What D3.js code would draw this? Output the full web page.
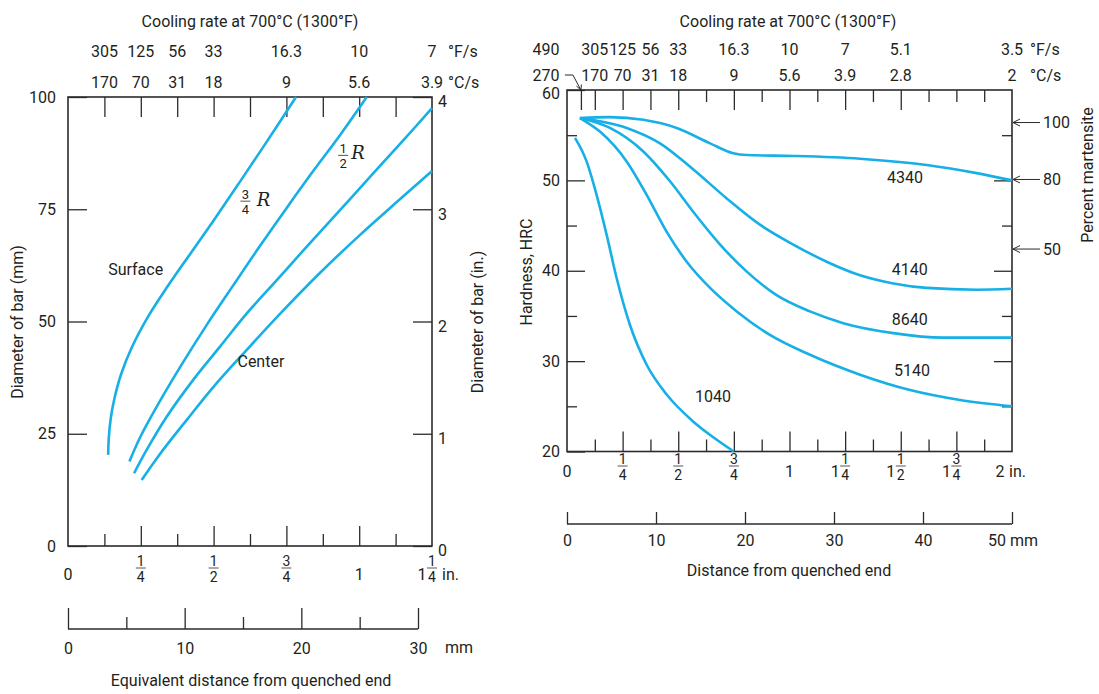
<!DOCTYPE html>
<html>
<head>
<meta charset="utf-8">
<script src="https://cdn.jsdelivr.net/npm/d3@7"></script>
<style>
  body { margin: 0; background: #fff; }
  svg text { font-family: Roboto, "Liberation Sans", sans-serif; fill: #231f20; }
</style>
</head>
<body>
<div id="chart"></div>
<script>
// ---------------- data: left chart (equivalent Jominy distance) ----------------
const rateInchL = [1/8, 1/4, 3/8, 1/2, 3/4, 1, 1.25];
const rateFL = ["305", "125", "56", "33", "16.3", "10", "7"];
const rateCL = ["170", "70", "31", "18", "9", "5.6", "3.9"];
const diamMmTicks = [0, 25, 50, 75, 100];
const diamInTicks = [0, 1, 2, 3, 4];
const inchTicksL = [0, 0.25, 0.5, 0.75, 1, 1.25];
const inchLabelsL = [["0", ""], ["", "1/4"], ["", "1/2"], ["", "3/4"], ["1", ""], ["1", "1/4"]];
const mmTicksL = [0, 10, 20, 30];
const mmMinorL = [5, 15, 25];

// [inch, mm]
const surface = [[0.138, 20.3], [0.140, 24.0], [0.147, 28.5], [0.160, 33.0], [0.182, 38.2], [0.219, 44.2],
  [0.276, 51.2], [0.344, 58.0], [0.419, 65.0], [0.499, 72.4], [0.585, 80.6], [0.677, 89.5], [0.783, 100]];
const threeQuarterR = [[0.211, 18.8], [0.247, 24.1], [0.316, 32.3], [0.396, 41.0], [0.476, 49.2], [0.568, 58.1],
  [0.659, 66.8], [0.751, 75.3], [0.842, 83.5], [0.934, 91.5], [1.026, 100]];
const halfR = [[0.227, 16.2], [0.270, 21.4], [0.339, 28.8], [0.430, 37.0], [0.522, 44.4], [0.614, 51.8],
  [0.717, 59.2], [0.820, 66.7], [0.934, 74.8], [1.048, 83.0], [1.152, 90.4], [1.25, 97.5]];
const center = [[0.253, 14.7], [0.316, 20.5], [0.408, 28.1], [0.499, 35.4], [0.614, 43.7], [0.728, 51.7],
  [0.865, 60.8], [1.003, 69.3], [1.129, 76.6], [1.25, 83.5]];

// ---------------- data: right chart (Jominy hardness) ----------------
const rateInchR = [1/16, 1/8, 1/4, 3/8, 1/2, 3/4, 1, 1.25, 1.5, 2];
const rateFR = ["490", "305", "125", "56", "33", "16.3", "10", "7", "5.1", "3.5"];
const rateCR = ["270", "170", "70", "31", "18", "9", "5.6", "3.9", "2.8", "2"];
const hrcTicks = [20, 30, 40, 50, 60];
const hrcMinor = [25, 35, 45, 55];
const inchTicksR = [0, 0.25, 0.5, 0.75, 1, 1.25, 1.5, 1.75, 2];
const inchLabelsR = [["0", ""], ["", "1/4"], ["", "1/2"], ["", "3/4"], ["1", ""], ["1", "1/4"], ["1", "1/2"], ["1", "3/4"], ["2", ""]];
const mmTicksR = [0, 10, 20, 30, 40, 50];
const martensitePct = ["100", "80", "50"];
const martensiteHRC = [56.4, 50.1, 42.4];

// [inch, HRC]
const steel4340 = [[0.058, 56.9], [0.193, 57.0], [0.343, 56.7], [0.493, 55.8], [0.643, 54.1], [0.747, 53.0],
  [0.808, 52.8], [1.017, 52.7], [1.317, 52.4], [1.617, 51.7], [1.841, 50.8], [2.0, 50.0]];
const steel4140 = [[0.058, 56.9], [0.268, 55.8], [0.418, 54.1], [0.568, 51.2], [0.718, 48.0], [0.867, 45.1],
  [1.017, 42.9], [1.167, 41.0], [1.317, 39.5], [1.467, 38.6], [1.617, 38.1], [1.841, 37.9], [2.0, 38.0]];
const steel8640 = [[0.058, 56.9], [0.193, 55.8], [0.343, 53.2], [0.463, 49.9], [0.568, 46.5], [0.688, 42.9],
  [0.808, 39.9], [0.942, 37.3], [1.092, 35.5], [1.242, 34.2], [1.467, 33.1], [1.691, 32.6], [2.0, 32.6]];
const steel5140 = [[0.058, 56.9], [0.148, 55.4], [0.268, 52.1], [0.358, 48.4], [0.448, 44.3], [0.538, 41.0],
  [0.643, 38.1], [0.763, 35.5], [0.912, 32.9], [1.092, 30.7], [1.317, 28.5], [1.542, 26.8], [1.766, 25.7], [2.0, 25.0]];
const steel1040 = [[0.036, 54.7], [0.088, 52.1], [0.133, 48.4], [0.178, 44.0], [0.223, 39.2], [0.283, 34.0],
  [0.358, 29.6], [0.448, 26.3], [0.568, 23.3], [0.673, 21.3], [0.75, 20.0]];
const steelNames = ["4340", "4140", "8640", "5140", "1040"];
const steelLabelAt = [[1.438, 49.7], [1.46, 39.5], [1.46, 34.0], [1.47, 28.4], [0.575, 25.5]];

// ---------------- drawing ----------------
const curveBlue = "#16b0e6";
const ink = "#2b2b2b";
const svg = d3.select("#chart").append("svg")
  .attr("width", 1099)
  .attr("height", 694);

// stacked fraction like 1/4
function fraction(g, x, barY, str, size) {
  const [num, den] = str.split("/");
  g.append("text").attr("x", x).attr("y", barY - 2).attr("text-anchor", "middle")
    .style("font-size", size + "px").text(num);
  g.append("line").attr("x1", x - 5).attr("x2", x + 5).attr("y1", barY).attr("y2", barY)
    .attr("stroke", ink).attr("stroke-width", 0.8);
  g.append("text").attr("x", x).attr("y", barY + size).attr("text-anchor", "middle")
    .style("font-size", size + "px").text(den);
}

function cleanAxis(g) {
  g.select(".domain").remove();
  g.selectAll("line").attr("stroke", ink).attr("stroke-width", 1.3);
  g.selectAll("text").attr("font-family", null).style("font-size", "16px").attr("fill", "#231f20");
}

// ===== LEFT =====
const xL = d3.scaleLinear().domain([0, 1.25]).range([68, 432]);
const yL = d3.scaleLinear().domain([0, 100]).range([546, 97]);
const yLin = d3.scaleLinear().domain([0, 4]).range([546, 97]);
const xLmm = d3.scaleLinear().domain([0, 30]).range([68, 418]);
const left = svg.append("g");

// titles
left.append("text").attr("x", 250).attr("y", 27).attr("text-anchor", "middle")
  .style("font-size", "16px").text("Cooling rate at 700°C (1300°F)");
rateInchL.forEach((v, i) => {
  left.append("text").attr("x", xL(v)).attr("y", 57).attr("text-anchor", "middle").style("font-size", "16px").text(rateFL[i]);
  left.append("text").attr("x", xL(v)).attr("y", 88).attr("text-anchor", "middle").style("font-size", "16px").text(rateCL[i]);
});
left.append("text").attr("x", 448).attr("y", 57).style("font-size", "16px").text("°F/s");
left.append("text").attr("x", 448).attr("y", 88).style("font-size", "16px").text("°C/s");

// ticks
const eighthsL = d3.range(1, 10).map(k => k / 8);
left.append("g").attr("transform", "translate(0,97)")
  .call(d3.axisTop(xL).tickValues(eighthsL).tickSizeInner(-20).tickSizeOuter(0).tickFormat(""))
  .call(cleanAxis);
left.append("g").attr("transform", "translate(0,546)")
  .call(d3.axisBottom(xL).tickValues([0.25, 0.5, 0.75, 1]).tickSizeInner(-20).tickSizeOuter(0).tickFormat(""))
  .call(cleanAxis);
left.append("g").attr("transform", "translate(0,546)")
  .call(d3.axisBottom(xL).tickValues([1/8, 3/8, 5/8, 7/8, 9/8]).tickSizeInner(-12).tickSizeOuter(0).tickFormat(""))
  .call(cleanAxis);
left.append("g").attr("transform", "translate(68,0)")
  .call(d3.axisLeft(yL).tickValues(diamMmTicks).tickSizeInner(-19).tickSizeOuter(0).tickPadding(12))
  .call(cleanAxis);
left.append("g").attr("transform", "translate(432,0)")
  .call(d3.axisRight(yLin).tickValues(diamInTicks).tickSizeInner(-19).tickSizeOuter(0).tickPadding(6).tickFormat(d3.format("d")))
  .call(cleanAxis)
  .selectAll("text").attr("dy", "0.62em");

left.append("rect").attr("x", xL(0)).attr("y", yL(100)).attr("width", xL(1.25) - xL(0)).attr("height", yL(0) - yL(100))
  .attr("fill", "none").attr("stroke", ink).attr("stroke-width", 1.6);

// axis titles
left.append("text").attr("transform", "translate(23,322) rotate(-90)").attr("text-anchor", "middle")
  .style("font-size", "16px").text("Diameter of bar (mm)");
left.append("text").attr("transform", "translate(483,322) rotate(-90)").attr("text-anchor", "middle")
  .style("font-size", "16px").text("Diameter of bar (in.)");

// inch labels
inchTicksL.forEach((v, i) => {
  const [whole, frac] = inchLabelsL[i];
  const x = xL(v);
  if (frac) {
    fraction(left, x, 568, frac, 14);
    if (whole) left.append("text").attr("x", x - 10).attr("y", 580).attr("text-anchor", "middle").style("font-size", "16px").text(whole);
  } else {
    left.append("text").attr("x", x).attr("y", 580).attr("text-anchor", "middle").style("font-size", "16px").text(whole);
  }
});
left.append("text").attr("x", xL(1.25) + 10).attr("y", 580).style("font-size", "16px").text("in.");

// mm axis
const mmG = left.append("g").attr("transform", "translate(0,629)");
mmG.call(d3.axisBottom(xLmm).tickValues(mmTicksL).tickSizeInner(-21).tickSizeOuter(0).tickPadding(8).tickFormat(d3.format("d")))
  .call(cleanAxis);
mmG.append("g").call(d3.axisBottom(xLmm).tickValues(mmMinorL).tickSizeInner(-12).tickSizeOuter(0).tickFormat(""))
  .call(cleanAxis);
mmG.append("line").attr("x1", xLmm(0)).attr("x2", xLmm(30)).attr("stroke", ink).attr("stroke-width", 1.6);
mmG.selectAll("text").attr("dy", "1.05em");
left.append("text").attr("x", 445).attr("y", 653).style("font-size", "16px").text("mm");
left.append("text").attr("x", 251).attr("y", 686).attr("text-anchor", "middle")
  .style("font-size", "16px").text("Equivalent distance from quenched end");

// curves
const lineL = d3.line().x(d => xL(d[0])).y(d => yL(d[1])).curve(d3.curveCatmullRom.alpha(0.5));
[surface, threeQuarterR, halfR, center].forEach(c => {
  left.append("path").datum(c).attr("d", lineL)
    .attr("fill", "none").attr("stroke", curveBlue).attr("stroke-width", 2.6);
});
left.append("text").attr("x", xL(0.138)).attr("y", yL(60.3)).style("font-size", "16px").text("Surface");
left.append("text").attr("x", xL(0.582)).attr("y", yL(39.8)).style("font-size", "16px").text("Center");
fraction(left, xL(0.609), yL(76.8), "3/4", 13);
left.append("text").attr("x", xL(0.648)).attr("y", yL(75.8)).style("font-family", "'DejaVu Serif', serif")
  .style("font-style", "italic").style("font-size", "18px").text("R");
fraction(left, xL(0.945), yL(87.0), "1/2", 13);
left.append("text").attr("x", xL(0.973)).attr("y", yL(86.2)).style("font-family", "'DejaVu Serif', serif")
  .style("font-style", "italic").style("font-size", "18px").text("R");

// ===== RIGHT =====
const xR = d3.scaleLinear().domain([0, 2]).range([567, 1012]);
const yR = d3.scaleLinear().domain([20, 60]).range([451.5, 90]);
const xRmm = d3.scaleLinear().domain([0, 50]).range([567, 1012]);
const right = svg.append("g");

right.append("text").attr("x", 788).attr("y", 27).attr("text-anchor", "middle")
  .style("font-size", "16px").text("Cooling rate at 700°C (1300°F)");
rateInchR.forEach((v, i) => {
  const x = i === 0 ? 546 : xR(v);
  right.append("text").attr("x", x).attr("y", 55).attr("text-anchor", "middle").style("font-size", "16px").text(rateFR[i]);
  right.append("text").attr("x", x).attr("y", 81).attr("text-anchor", "middle").style("font-size", "16px").text(rateCR[i]);
});
right.append("text").attr("x", 1030).attr("y", 55).style("font-size", "16px").text("°F/s");
right.append("text").attr("x", 1030).attr("y", 81).style("font-size", "16px").text("°C/s");

// arrow from 270 label to the 1/16 in tick
const ax = xR(1/16), ay = yR(60);
right.append("path")
  .attr("d", `M${ax - 16},${ay - 15}H${ax - 8}L${ax},${ay}M${ax - 4.5},${ay - 4}L${ax},${ay}L${ax + 0.5},${ay - 5.5}`)
  .attr("fill", "none").attr("stroke", ink).attr("stroke-width", 1);

// ticks
const topLong = rateInchR.filter(v => v < 2);
const topShort = [5/8, 7/8, 9/8, 11/8, 13/8, 14/8, 15/8];
right.append("g").attr("transform", `translate(0,${yR(60)})`)
  .call(d3.axisTop(xR).tickValues(topLong).tickSizeInner(-20).tickSizeOuter(0).tickFormat(""))
  .call(cleanAxis);
right.append("g").attr("transform", `translate(0,${yR(60)})`)
  .call(d3.axisTop(xR).tickValues(topShort).tickSizeInner(-12).tickSizeOuter(0).tickFormat(""))
  .call(cleanAxis);
const eighthsR = d3.range(1, 16).map(k => k / 8);
right.append("g").attr("transform", `translate(0,${yR(20)})`)
  .call(d3.axisBottom(xR).tickValues(eighthsR.filter((v, i) => i % 2 === 1)).tickSizeInner(-20).tickSizeOuter(0).tickFormat(""))
  .call(cleanAxis);
right.append("g").attr("transform", `translate(0,${yR(20)})`)
  .call(d3.axisBottom(xR).tickValues(eighthsR.filter((v, i) => i % 2 === 0)).tickSizeInner(-12).tickSizeOuter(0).tickFormat(""))
  .call(cleanAxis);
right.append("g").attr("transform", `translate(${xR(0)},0)`)
  .call(d3.axisLeft(yR).tickValues(hrcTicks).tickSizeInner(-18).tickSizeOuter(0).tickPadding(7))
  .call(cleanAxis)
  .selectAll("text").filter(d => d === 60).attr("dy", "0.55em");
right.append("g").attr("transform", `translate(${xR(0)},0)`)
  .call(d3.axisLeft(yR).tickValues(hrcMinor).tickSizeInner(-10).tickSizeOuter(0).tickFormat(""))
  .call(cleanAxis);
right.append("g").attr("transform", `translate(${xR(2)},0)`)
  .call(d3.axisRight(yR).tickValues([30, 40, 50]).tickSizeInner(-18).tickSizeOuter(0).tickFormat(""))
  .call(cleanAxis);
right.append("g").attr("transform", `translate(${xR(2)},0)`)
  .call(d3.axisRight(yR).tickValues(hrcMinor).tickSizeInner(-10).tickSizeOuter(0).tickFormat(""))
  .call(cleanAxis);

right.append("rect").attr("x", xR(0)).attr("y", yR(60)).attr("width", xR(2) - xR(0)).attr("height", yR(20) - yR(60))
  .attr("fill", "none").attr("stroke", ink).attr("stroke-width", 1.6);

right.append("text").attr("transform", "translate(532,272) rotate(-90)").attr("text-anchor", "middle")
  .style("font-size", "16px").text("Hardness, HRC");

// percent martensite arrows
martensiteHRC.forEach((h, i) => {
  const x = xR(2), y = yR(h);
  right.append("path")
    .attr("d", `M${x + 28},${y}H${x + 1}M${x + 8},${y - 3.5}L${x + 1},${y}L${x + 8},${y + 3.5}`)
    .attr("fill", "none").attr("stroke", ink).attr("stroke-width", 1);
  right.append("text").attr("x", x + 31).attr("y", y).attr("dy", "0.35em").style("font-size", "16px").text(martensitePct[i]);
});
right.append("text").attr("transform", "translate(1093,175) rotate(-90)").attr("text-anchor", "middle")
  .style("font-size", "16px").text("Percent martensite");

// inch labels
inchTicksR.forEach((v, i) => {
  const [whole, frac] = inchLabelsR[i];
  const x = xR(v);
  if (frac) {
    fraction(right, x, 466, frac, 14);
    if (whole) right.append("text").attr("x", x - 10).attr("y", 477).attr("text-anchor", "middle").style("font-size", "16px").text(whole);
  } else {
    const xx = v === 2 ? x - 12 : x;
    right.append("text").attr("x", xx).attr("y", 477).attr("text-anchor", "middle").style("font-size", "16px").text(whole);
  }
});
right.append("text").attr("x", xR(2) - 3).attr("y", 477).style("font-size", "16px").text("in.");

// mm axis
const mmR = right.append("g").attr("transform", "translate(0,524)");
mmR.call(d3.axisBottom(xRmm).tickValues(mmTicksR).tickSizeInner(-12).tickSizeOuter(0).tickPadding(8)
    .tickFormat(d => d === 50 ? "" : d))
  .call(cleanAxis);
mmR.append("line").attr("x1", xRmm(0)).attr("x2", xRmm(50)).attr("stroke", ink).attr("stroke-width", 1.6);
mmR.selectAll("text").attr("dy", "0.9em");
right.append("text").attr("x", xRmm(50) - 24).attr("y", 546).style("font-size", "16px").text("50 mm");
right.append("text").attr("x", 789).attr("y", 576).attr("text-anchor", "middle")
  .style("font-size", "16px").text("Distance from quenched end");

// curves
const lineR = d3.line().x(d => xR(d[0])).y(d => yR(d[1])).curve(d3.curveMonotoneX);
[steel4340, steel4140, steel8640, steel5140, steel1040].forEach((c, i) => {
  right.append("path").datum(c).attr("d", lineR)
    .attr("fill", "none").attr("stroke", curveBlue).attr("stroke-width", 2.6);
  right.append("text").attr("x", xR(steelLabelAt[i][0])).attr("y", yR(steelLabelAt[i][1]))
    .style("font-size", "16px").text(steelNames[i]);
});
</script>
</body>
</html>
